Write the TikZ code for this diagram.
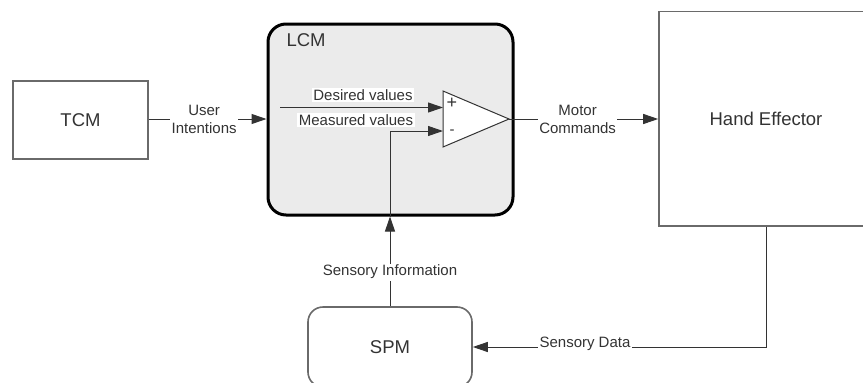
\documentclass[tikz,border=0pt]{standalone}
\usepackage{fontspec}
\setmainfont{Liberation Sans}
\usetikzlibrary{arrows.meta}
\definecolor{ink}{HTML}{333333}
\definecolor{boxline}{HTML}{6A6A6A}
\definecolor{lcmfill}{HTML}{EBEBEB}
\begin{document}
\begin{tikzpicture}[x=1pt,y=-1pt,
  big/.style={font=\fontsize{18.5}{22}\selectfont, text=ink},
  small/.style={font=\fontsize{15}{18}\selectfont, text=ink, align=center},
  plainbox/.style={draw=boxline, line width=1.6pt, fill=white, big},
  link/.style={draw=ink, line width=1pt},
  arr/.style={link, -{Triangle[length=15pt,width=10pt]}},
  tag/.style={small, fill=white, inner sep=1.5pt},
]
\useasboundingbox (0,0) rectangle (863,383);
\clip (0,0) rectangle (863,383);

% main blocks
\node[plainbox, minimum width=135pt, minimum height=78pt] (tcm) at (80.5,120) {TCM};
\node[draw=black, line width=3pt, fill=lcmfill, rounded corners=18pt,
      minimum width=245pt, minimum height=191pt] (lcm) at (390.5,119.5) {};
\node[big, anchor=west] (lcmtitle) at (283,40) {LCM};
\node[plainbox, minimum width=214pt, minimum height=214.5pt] (he) at (766,118.75) {};
\node[big] (hetext) at (766,118.5) {Hand Effector};
\node[plainbox, rounded corners=15pt, minimum width=164pt, minimum height=80pt] (spm) at (390,347) {SPM};

% comparator inside LCM
\coordinate (cmpTop) at (443,91);
\coordinate (cmpBot) at (443,147);
\coordinate (cmpOut) at (509,119);
\coordinate (cmpP) at (443,107.5);
\coordinate (cmpM) at (443,131);
\draw[draw=ink, line width=1pt, fill=white, line join=miter] (cmpTop) -- (cmpOut) -- (cmpBot) -- cycle;
\node[small, font=\fontsize{18}{20}\selectfont] (plus) at (452,103) {+};
\node[small] (minus) at (452,132) {-};

% signal paths
\coordinate (desStart) at (280,107.5);
\coordinate (measCorner) at (390,131);
\draw[arr] (tcm.east |- 0,119) -- (lcm.west |- 0,119)
  node[tag, pos=0.47] (ui) {User\\Intentions};
\draw[arr] (desStart) -- (cmpP);
\draw[arr] (spm.north) -- (spm.north |- lcm.south)
  node[tag, pos=0.38] (si) {Sensory Information};
\draw[arr] (spm.north |- lcm.south) -- (measCorner) -- (cmpM);
\draw[arr] (cmpOut) -- (he.west |- cmpOut)
  node[tag, pos=0.46] (mc) {Motor\\Commands};
\draw[arr] (he.south) |- (spm.east);

% labels drawn over the lines
\node[tag] (dv) at (363,95) {Desired values};
\node[tag] (mv) at (356,120) {Measured values};
\node[tag] (sd) at (585,344) {Sensory Data};
\end{tikzpicture}
\end{document}
